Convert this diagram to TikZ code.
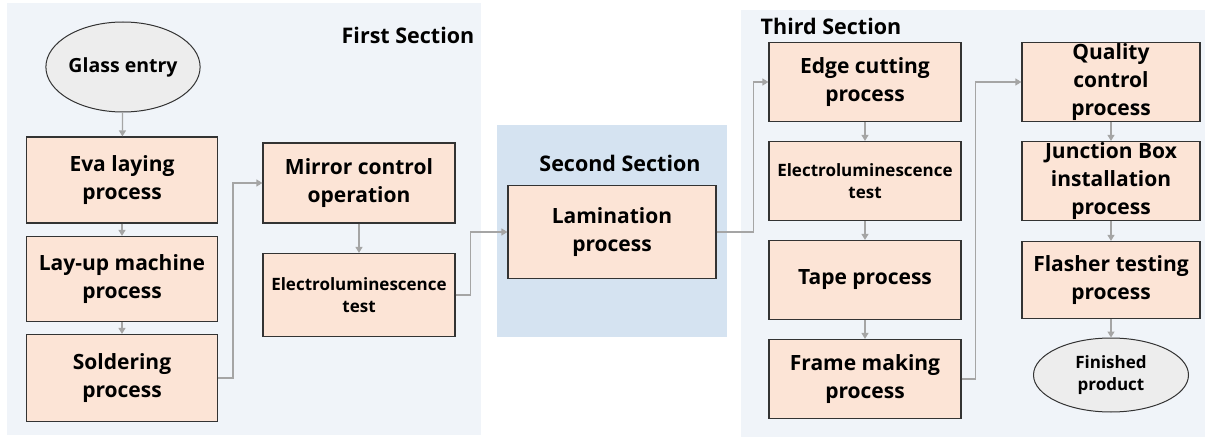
\documentclass[tikz,border=0pt]{standalone}
\usepackage{fontspec}
\setmainfont{Open Sans}
\usepackage{xcolor}
\usetikzlibrary{arrows.meta,positioning,shapes.geometric}

\definecolor{panel}{HTML}{F0F4F9}
\definecolor{midpanel}{HTML}{D5E3F1}
\definecolor{peach}{HTML}{FCE4D6}
\definecolor{oval}{HTML}{EDEDED}
\definecolor{edgegray}{HTML}{A5A5A5}
\definecolor{ink}{HTML}{333333}

\begin{document}
\begin{tikzpicture}[x=1pt,y=1pt,node distance=99pt,
    font=\fontsize{21}{28}\selectfont\bfseries,
    process/.style={rectangle,draw=ink,line width=1.2pt,fill=peach,align=center,inner sep=0pt,minimum width=191pt,minimum height=80pt},
    terminal/.style={ellipse,draw=ink,line width=1pt,fill=oval,align=center,inner sep=0pt},
    small text/.style={font=\fontsize{17}{22}\selectfont\bfseries},
    flow/.style={draw=edgegray,line width=1.3pt,-{Triangle[width=7pt,length=6pt]}},
    title/.style={font=\fontsize{21.5}{26}\selectfont\bfseries}]

    \useasboundingbox (0,0) rectangle (1208,437);
    \fill[white] (0,0) rectangle (1208,437);
    \fill[panel] (7,2) rectangle (481,434);
    \fill[midpanel] (497,100) rectangle (727,312);
    \fill[panel] (741,0) rectangle (1205,427);

    \node[title] (first) at (408,402) {First Section};
    \node[title] (second) at (620,274) {Second Section};
    \node[title] (third) at (831,411) {Third Section};

    \node[terminal, minimum width=150pt, minimum height=90pt, font=\fontsize{19.5}{24}\selectfont\bfseries] (glass) at (123,370) {Glass entry};
    \node[process, minimum height=86pt] (eva) at (122,257) {Eva laying\\process};
    \node[process, minimum height=85pt] (layup) [below of = eva] {Lay-up machine\\process};
    \node[process, minimum height=87pt] (solder) [below of = layup] {Soldering\\process};

    \node[process, minimum width=192pt] (mirror) at (359,254) {Mirror control\\operation};
    \node[process, small text, minimum width=192pt, minimum height=83pt] (elone) at (359,142) {Electroluminescence\\test};

    \node[process, minimum width=208pt, minimum height=93pt] (lam) at (612,205) {Lamination\\process};

    \node[process, minimum width=192pt, minimum height=79pt] (cut) at (865,355) {Edge cutting\\process};
    \node[process, small text, minimum width=192pt, minimum height=79pt] (eltwo) [below of = cut] {Electroluminescence\\test};
    \node[process, minimum width=192pt, minimum height=79pt] (tape) [below of = eltwo] {Tape process};
    \node[process, minimum width=192pt, minimum height=79pt] (frame) [below of = tape] {Frame making\\process};

    \node[process, minimum width=178pt, minimum height=79pt] (quality) at (1111,355) {Quality\\control\\process};
    \node[process, minimum width=178pt, minimum height=79pt] (junction) [below of = quality] {Junction Box\\installation\\process};
    \node[process, minimum width=178pt, minimum height=77pt] (flasher) [below of = junction] {Flasher testing\\process};
    \node[terminal, small text, minimum width=155pt, minimum height=74pt] (finished) at (1111,62) {Finished\\product};

    \draw[flow] (glass) -- (eva);
    \draw[flow] (eva) -- (layup);
    \draw[flow] (layup) -- (solder);
    \draw[flow] (solder.east) -- ++(15,0) |- (mirror.west);
    \draw[flow] (mirror) -- (elone);
    \draw[flow] (elone.east) -- ++(15,0) |- (lam.west);
    \draw[flow] (lam.east) -- ++(37,0) |- (cut.west);
    \draw[flow] (cut) -- (eltwo);
    \draw[flow] (eltwo) -- (tape);
    \draw[flow] (tape) -- (frame);
    \draw[flow] (frame.east) -- ++(14,0) |- (quality.west);
    \draw[flow] (quality) -- (junction);
    \draw[flow] (junction) -- (flasher);
    \draw[flow] (flasher) -- (finished);

\end{tikzpicture}
\end{document}
